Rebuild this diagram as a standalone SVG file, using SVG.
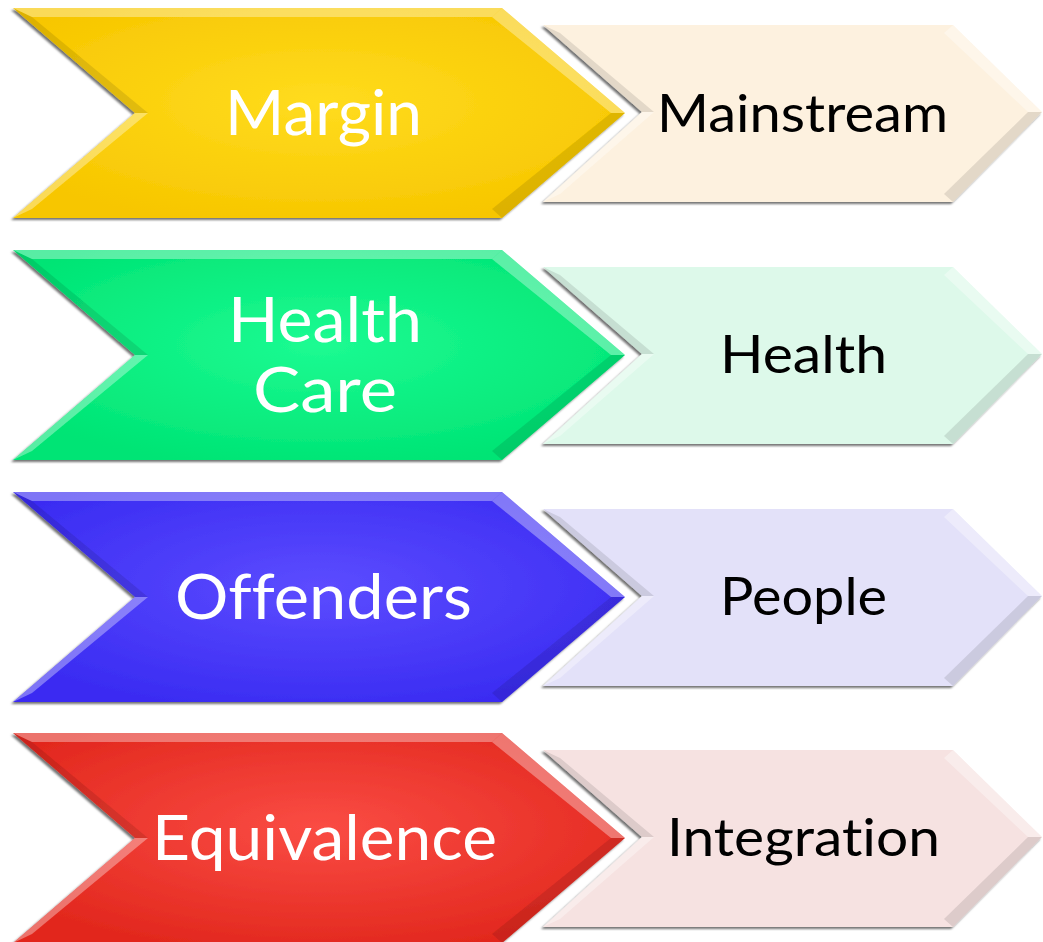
<svg xmlns="http://www.w3.org/2000/svg" width="1043" height="942" viewBox="0 0 1043 942">
<style>
.lt{font-family:Lato,"Open Sans","Liberation Sans",sans-serif;font-size:61px;fill:#ffffff;text-anchor:middle;font-variant-ligatures:none}
.rt{font-family:Lato,"Open Sans","Liberation Sans",sans-serif;font-size:53px;fill:#000000;text-anchor:middle;font-variant-ligatures:none}
.hl{fill:#ffffff;opacity:0.35}
.dk{fill:#000000;opacity:0.10}
</style>
<defs>
<filter id="sh" x="-5%" y="-5%" width="110%" height="115%">
<feDropShadow dx="-2" dy="2" stdDeviation="1.2" flood-color="#000" flood-opacity="0.55"/>
</filter>
<path id="L" d="M13,8 L502,8 L625,113 L502,218 L13,218 L135,113 Z"/>
<path id="R" d="M543,25 L953,25 L1042,112 L953,202 L543,202 L642,112 Z"/>
<g id="Lbev">
<path class="hl" d="M502,8 L625,113 L611,113 L492,17 Z"/>
<path class="dk" d="M625,113 L502,218 L492,209 L611,113 Z"/>
<path class="hl" d="M135,113 L13,218 L32,209 L148,113 Z"/>
<path class="dk" d="M13,8 L135,113 L148,113 L32,17 Z"/>
<path class="hl" d="M13,8 L502,8 L492,17 L32,17 Z" opacity="0.15"/>
</g>
<g id="Rbev">
<path class="hl" d="M953,25 L1042,112 L1028,112 L944,33 Z" opacity="0.6"/>
<path class="dk" d="M1042,112 L953,202 L944,194 L1028,112 Z" opacity="0.08"/>
<path class="hl" d="M642,112 L543,202 L560,194 L654,112 Z" opacity="0.7"/>
<path class="dk" d="M543,25 L642,112 L654,112 L560,33 Z" opacity="0.06"/>
</g>
<radialGradient id="gY" cx="50%" cy="45%" r="60%"><stop offset="0" stop-color="#FFDC1E"/><stop offset="1" stop-color="#F7C600"/></radialGradient>
<radialGradient id="gG" cx="50%" cy="45%" r="60%"><stop offset="0" stop-color="#1CFB92"/><stop offset="1" stop-color="#00E474"/></radialGradient>
<radialGradient id="gB" cx="50%" cy="45%" r="60%"><stop offset="0" stop-color="#5C4CFF"/><stop offset="1" stop-color="#3A2CF2"/></radialGradient>
<radialGradient id="gRd" cx="50%" cy="45%" r="60%"><stop offset="0" stop-color="#FA4C44"/><stop offset="1" stop-color="#E2281E"/></radialGradient>
</defs>
<rect width="1043" height="942" fill="#ffffff"/>

<g id="row1" transform="translate(0,0)">
<g id="margin" filter="url(#sh)"><use href="#L" fill="url(#gY)"/><use href="#Lbev"/></g>
<g id="mainstream" filter="url(#sh)"><use href="#R" fill="#FDF1DF"/><use href="#Rbev"/></g>
<text class="lt" x="323.5" y="135" textLength="197" lengthAdjust="spacingAndGlyphs">Margin</text>
<text class="rt" x="802.5" y="132" textLength="291" lengthAdjust="spacingAndGlyphs">Mainstream</text>
</g>

<g id="row2" transform="translate(0,242)">
<g id="healthcare" filter="url(#sh)"><use href="#L" fill="url(#gG)"/><use href="#Lbev"/></g>
<g id="health" filter="url(#sh)"><use href="#R" fill="#DDF9EA"/><use href="#Rbev"/></g>
<text class="lt" x="325" y="100" textLength="194" lengthAdjust="spacingAndGlyphs">Health</text>
<text class="lt" x="325" y="170" textLength="144" lengthAdjust="spacingAndGlyphs">Care</text>
<text class="rt" x="803.5" y="131" textLength="167" lengthAdjust="spacingAndGlyphs">Health</text>
</g>

<g id="row3" transform="translate(0,484)">
<g id="offenders" filter="url(#sh)"><use href="#L" fill="url(#gB)"/><use href="#Lbev"/></g>
<g id="people" filter="url(#sh)"><use href="#R" fill="#E3E1F9"/><use href="#Rbev"/></g>
<text class="lt" x="323.5" y="135" textLength="297" lengthAdjust="spacingAndGlyphs">Offenders</text>
<text class="rt" x="803.5" y="131" textLength="167" lengthAdjust="spacingAndGlyphs">People</text>
</g>

<g id="row4" transform="translate(0,725)">
<g id="equivalence" filter="url(#sh)"><use href="#L" fill="url(#gRd)"/><use href="#Lbev"/></g>
<g id="integration" filter="url(#sh)"><use href="#R" fill="#F6E2E1"/><use href="#Rbev"/></g>
<text class="lt" x="324.5" y="135" textLength="345" lengthAdjust="spacingAndGlyphs">Equivalence</text>
<text class="rt" x="803.5" y="131" textLength="273" lengthAdjust="spacingAndGlyphs">Integration</text>
</g>
</svg>
